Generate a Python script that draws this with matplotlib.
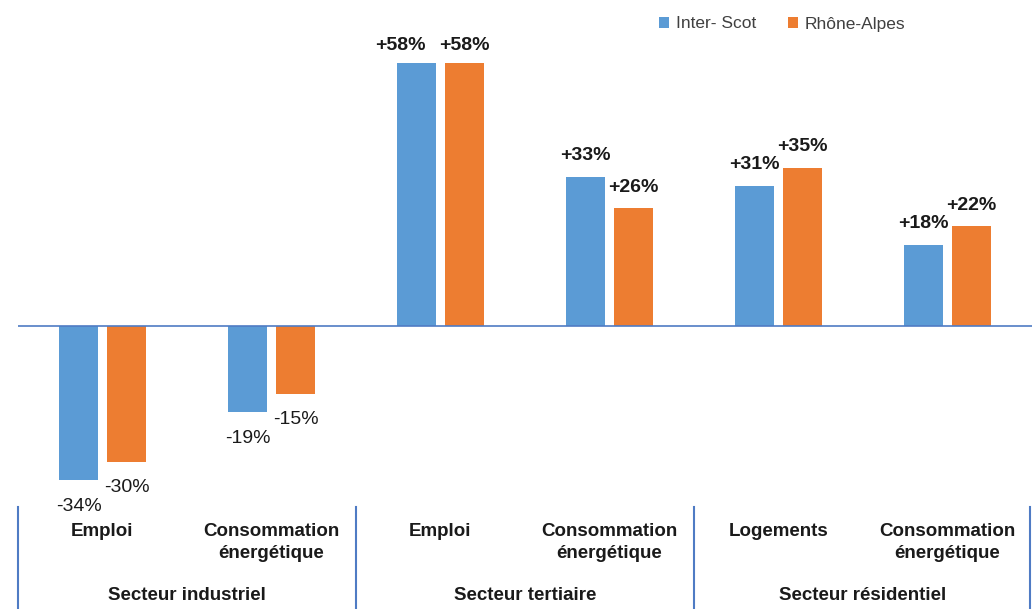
import matplotlib
matplotlib.use("Agg")
import matplotlib.pyplot as plt
import matplotlib.transforms as mtransforms
import numpy as np

plt.rcParams['font.family'] = ['Liberation Sans', 'DejaVu Sans']

# data
categories = ["Emploi", "Consommation\nénergétique", "Emploi", "Consommation\nénergétique",
              "Logements", "Consommation\nénergétique"]
groups = ["Secteur industriel", "Secteur tertiaire", "Secteur résidentiel"]
inter_scot = [-34, -19, 58, 33, 31, 18]
rhone_alpes = [-30, -15, 58, 26, 35, 22]
series_names = ["Inter- Scot", "Rhône-Alpes"]

BLUE = "#5B9BD5"
ORANGE = "#ED7D31"
LINE = "#4F7BC4"
TXT = "#1a1a1a"

W, H = 1033, 609
fig = plt.figure(figsize=(W / 100, H / 100), dpi=100)
ax = fig.add_axes([18 / W, (H - 490) / H, (1032 - 18) / W, 490 / H])

x = np.arange(len(categories))
bw = 0.225
off = 0.142
ax.bar(x - off, inter_scot, bw, color=BLUE, label=series_names[0], zorder=2)
ax.bar(x + off, rhone_alpes, bw, color=ORANGE, label=series_names[1], zorder=2)

ax.set_xlim(-0.5, 5.5)
ax.set_ylim(-36.2, 72)
ax.axhline(0, color=LINE, lw=1.2, zorder=3)
for s in ax.spines.values():
    s.set_visible(False)
ax.set_xticks([])
ax.set_yticks([])

# value labels, offsets in pixels
px = 0.72
for i in range(len(categories)):
    for vals, sign in ((inter_scot, -1), (rhone_alpes, 1)):
        v = vals[i]
        dx, dy = 0, (21 if v > 0 else -26)
        if v == 58:
            dy = 18
            dx = -16 if sign < 0 else 0
        ax.annotate(f"{v:+d}%", (x[i] + sign * off, v), xytext=(dx * px, dy * px),
                    textcoords="offset points", ha="center", va="center",
                    fontsize=14, fontweight="bold" if v > 0 else "normal",
                    color=TXT, zorder=4)

# category axis below
tr = mtransforms.blended_transform_factory(ax.transData, fig.transFigure)
def fy(py):
    return (H - py) / H

for i, c in enumerate(categories):
    ax.text(x[i], fy(523), c, transform=tr, ha="center", va="top", fontsize=13.5,
            fontweight="bold", color=TXT, linespacing=1.38)
for g, name in enumerate(groups):
    ax.text(2 * g + 0.5, fy(595), name, transform=tr, ha="center", va="center",
            fontsize=13.5, fontweight="bold", color=TXT)
for b in [-0.5, 1.5, 3.5, 5.49]:
    ax.plot([b, b], [fy(507), fy(608)], transform=tr, color=LINE, lw=1.5, clip_on=False)

ax.legend(loc="center left", bbox_to_anchor=(650 / W, fy(24)), bbox_transform=fig.transFigure,
          ncol=2, frameon=False, fontsize=12.5, handlelength=0.6, handleheight=0.6,
          columnspacing=1.8, handletextpad=0.4, borderpad=0, labelcolor="#404040")

fig.savefig("out.png", dpi=100)
